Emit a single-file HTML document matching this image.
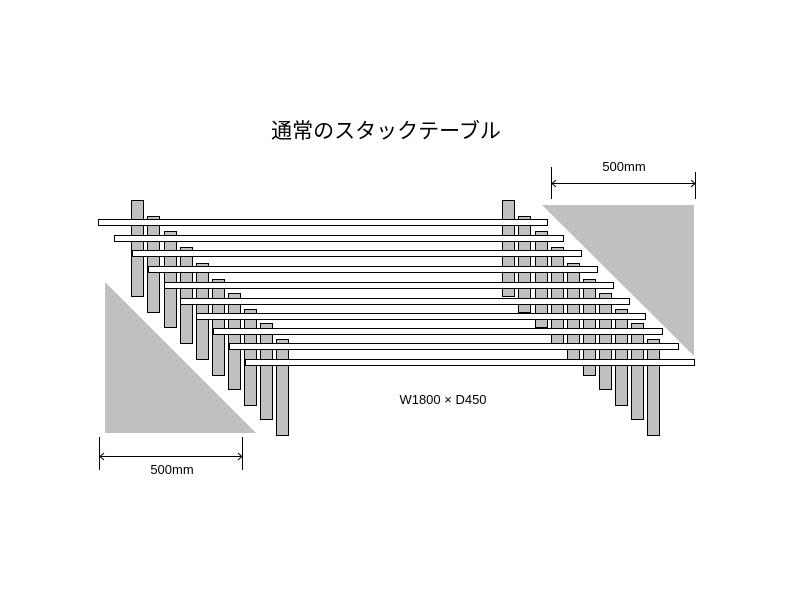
<!DOCTYPE html>
<html><head><meta charset="utf-8"><style>
html,body{margin:0;padding:0;background:#fff;}
svg{display:block;}
text{font-family:"Liberation Sans","Noto Sans CJK JP",sans-serif;fill:#000;}
</style></head><body>
<svg width="800" height="600" viewBox="0 0 800 600" xmlns="http://www.w3.org/2000/svg">
<text x="386" y="138" font-size="21" text-anchor="middle">通常のスタックテーブル</text>
<polygon points="105,282 105,433 256,433" fill="#c0c0c0"/>
<polygon points="542,205 694,205 694,356" fill="#c0c0c0"/>
<g fill="#c0c0c0" stroke="#000" stroke-width="1">
<rect x="131.5" y="200.5" width="12" height="96"/>
<rect x="147.5" y="216.5" width="12" height="96"/>
<rect x="164.5" y="231.5" width="12" height="96"/>
<rect x="180.5" y="247.5" width="12" height="96"/>
<rect x="196.5" y="263.5" width="12" height="96"/>
<rect x="212.5" y="279.5" width="12" height="96"/>
<rect x="228.5" y="293.5" width="12" height="96"/>
<rect x="244.5" y="309.5" width="12" height="96"/>
<rect x="260.5" y="323.5" width="12" height="96"/>
<rect x="276.5" y="339.5" width="12" height="96"/>
<rect x="502.5" y="200.5" width="12" height="96"/>
<rect x="518.5" y="216.5" width="12" height="96"/>
<rect x="535.5" y="231.5" width="12" height="96"/>
<rect x="551.5" y="247.5" width="12" height="96"/>
<rect x="567.5" y="263.5" width="12" height="96"/>
<rect x="583.5" y="279.5" width="12" height="96"/>
<rect x="599.5" y="293.5" width="12" height="96"/>
<rect x="615.5" y="309.5" width="12" height="96"/>
<rect x="631.5" y="323.5" width="12" height="96"/>
<rect x="647.5" y="339.5" width="12" height="96"/>
</g>
<g fill="#fff" stroke="#000" stroke-width="1">
<rect x="98.5" y="219.5" width="449" height="6"/>
<rect x="114.5" y="235.5" width="449" height="6"/>
<rect x="132.5" y="250.5" width="449" height="6"/>
<rect x="148.5" y="266.5" width="449" height="6"/>
<rect x="164.5" y="282.5" width="449" height="6"/>
<rect x="180.5" y="298.5" width="449" height="6"/>
<rect x="196.5" y="313.5" width="449" height="6"/>
<rect x="213.5" y="328.5" width="449" height="6"/>
<rect x="229.5" y="343.5" width="449" height="6"/>
<rect x="245.5" y="359.5" width="449" height="6"/>
</g>
<g stroke="#000" stroke-width="1" fill="none">
<line x1="99.5" y1="437" x2="99.5" y2="470"/>
<line x1="242.5" y1="437" x2="242.5" y2="470"/>
<line x1="100" y1="456.5" x2="242" y2="456.5"/>
<polyline points="104,453 100,456.5 104,460"/>
<polyline points="238,453 242,456.5 238,460"/>
<line x1="551.5" y1="167" x2="551.5" y2="199"/>
<line x1="695.5" y1="172" x2="695.5" y2="199"/>
<line x1="552" y1="183.5" x2="695" y2="183.5"/>
<polyline points="556,180 552,183.5 556,187"/>
<polyline points="691,180 695,183.5 691,187"/>
</g>
<text x="172" y="474" font-size="13" text-anchor="middle">500mm</text>
<text x="624" y="171" font-size="13" text-anchor="middle">500mm</text>
<text x="443" y="404" font-size="13" text-anchor="middle">W1800 × D450</text>
</svg>
</body></html>
